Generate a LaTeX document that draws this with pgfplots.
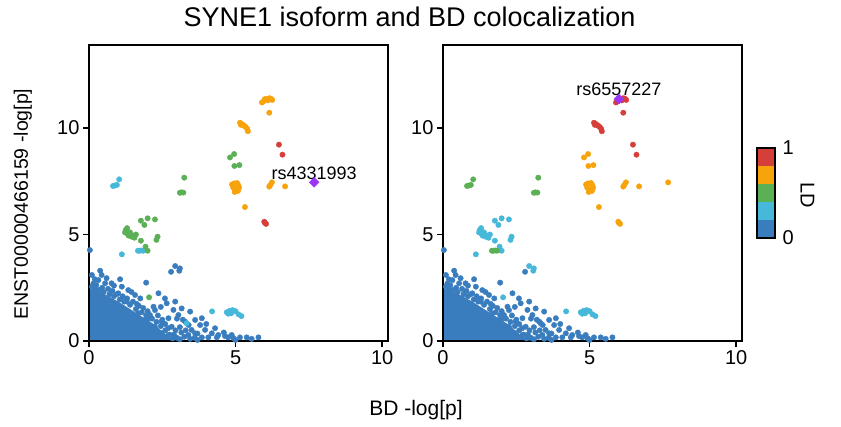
\documentclass[border=0pt]{standalone}
\usepackage{pgfplots}
\pgfplotsset{compat=1.18}
\usepackage{pgfplotstable}
\usepackage{fontspec}
\setmainfont{Liberation Sans}
\definecolor{cblue}{HTML}{3A7DBE}
\definecolor{ccyan}{HTML}{46B8DA}
\definecolor{cgreen}{HTML}{5BAF55}
\definecolor{corange}{HTML}{F7A30C}
\definecolor{cred}{HTML}{D43F3A}
\definecolor{cpurple}{HTML}{9B35F5}

% dense core outline of the blue (LD<0.2) SNPs
\pgfplotstableread{
x y
0 2.45
0.3 2.35
0.6 2.15
1.0 1.85
1.4 1.5
1.8 1.15
2.2 0.8
2.5 0.45
2.75 0.15
2.8 0
}\blueCore
\pgfplotstableread{
x y
0.1 2.55
0.2 2.45
0.35 2.4
0.5 2.3
0.7 2.2
0.85 2.1
1.05 1.95
1.2 1.85
1.4 1.7
1.6 1.5
1.8 1.35
1.95 1.2
2.15 1.05
2.3 0.9
2.45 0.7
2.6 0.5
2.75 0.3
2.85 0.12
2.9 0.3
3.0 0.15
3.15 0.4
3.25 0.2
3.45 0.1
3.6 0.15
3.7 0.05
0.38 3.3
0.43 3.1
0.32 2.86
0.55 2.71
0.77 2.71
1.06 2.9
1.12 2.55
1.34 2.39
1.57 2.16
1.0 2.24
1.29 1.85
1.63 1.74
1.95 2.74
2.37 2.24
2.2 1.61
2.59 2.0
2.65 1.77
2.94 1.85
2.88 1.46
3.16 1.53
3.45 1.38
3.05 1.22
2.71 1.07
3.28 0.91
3.62 0.99
3.85 1.07
3.79 0.75
3.5 0.52
3.96 0.52
4.19 0.36
4.41 0.28
4.64 0.23
4.87 0.28
5.15 0.17
5.38 0.17
5.78 0.17
3.1 0.08
4.07 0.17
2.82 0.67
2.48 0.91
2.25 0.67
2.08 1.22
1.91 0.99
1.68 1.3
1.91 0.44
2.48 0.36
2.71 0.28
3.62 0.36
3.39 0.28
3.85 0.17
4.36 0.17
4.75 0.17
4.93 0.13
0.03 4.27
0.15 2.7
0.25 2.62
0.45 2.5
0.65 2.45
0.8 2.35
0.95 2.2
1.15 2.1
1.3 2.0
1.5 1.85
1.7 1.65
1.85 1.55
2.0 1.4
2.05 1.05
2.35 1.2
2.5 1.0
2.6 0.8
2.7 0.6
2.95 0.5
3.1 0.65
3.3 0.5
3.2 1.0
3.4 0.75
4.0 0.8
3.7 0.35
0.6 2.95
0.2 2.9
0.1 3.1
0.85 2.6
1.45 2.3
1.75 2.0
2.25 1.45
2.45 1.6
3.0 1.05
4.3 0.6
4.6 0.4
5.0 0.05
5.55 0.1
}\blueFringe
\pgfplotstableread{
x y
5.9 11.2
5.95 11.25
6.05 11.35
6.1 11.3
6.15 11.4
6.2 11.38
6.25 11.32
6.0 11.36
}\grpA
\pgfplotstableread{
x y
6.15 10.72
}\grpB
\pgfplotstableread{
x y
5.15 10.25
5.18 10.15
5.2 10.2
5.25 10.15
5.3 10.1
5.35 10.05
5.4 9.95
5.42 9.85
}\grpC
\pgfplotstableread{
x y
6.48 9.22
6.6 8.75
}\grpD
\pgfplotstableread{
x y
4.95 8.78
4.81 8.62
4.96 8.22
5.13 8.26
}\grpE
\pgfplotstableread{
x y
1.03 7.59
0.82 7.28
0.88 7.3
0.95 7.33
}\grpF
\pgfplotstableread{
x y
3.25 7.67
3.1 6.96
3.15 6.98
3.22 6.97
}\grpG
\pgfplotstableread{
x y
4.88 7.35
4.95 7.4
5.05 7.42
5.1 7.3
4.92 7.2
5.0 7.1
5.08 7.05
4.97 7.0
5.12 7.2
}\grpH
\pgfplotstableread{
x y
6.18 7.32
6.24 7.45
6.15 7.25
6.69 7.26
}\grpI
\pgfplotstableread{
x y
7.68 7.45
}\grpJ
\pgfplotstableread{
x y
5.32 6.29
}\grpK
\pgfplotstableread{
x y
5.98 5.6
6.04 5.5
6.0 5.55
}\grpL
\pgfplotstableread{
x y
1.77 5.65
2.0 5.76
2.25 5.71
1.89 5.45
1.25 5.2
1.3 5.05
1.35 4.95
1.4 5.1
1.5 4.95
1.55 4.85
1.6 5.0
1.45 4.9
1.3 5.3
1.23 5.1
1.77 4.71
2.34 4.9
2.3 4.75
1.93 4.43
2.0 4.24
}\grpM
\pgfplotstableread{
x y
1.67 4.24
1.72 4.24
1.78 4.25
1.85 4.24
}\grpN
\pgfplotstableread{
x y
1.12 4.07
}\grpO
\pgfplotstableread{
x y
2.94 3.52
3.1 3.41
3.08 3.3
}\grpQa
\pgfplotstableread{
x y
2.8 3.25
}\grpQb
\pgfplotstableread{
x y
2.05 2.05
}\grpR
\pgfplotstableread{
x y
4.2 1.39
4.7 1.35
4.75 1.28
4.8 1.42
4.85 1.3
4.9 1.45
5.0 1.4
5.1 1.25
5.2 1.17
}\grpS
\pgfplotstableread{
x y
3.33 0.83
}\grpT
\pgfplotstableread{
x y
6.0 11.36
}\grpZ

\pgfplotsset{
  panel/.style={
    anchor=south west,
    width=299pt, height=296pt, scale only axis,
    xmin=0, xmax=10.2, ymin=0, ymax=13.9,
    xtick={0,5,10}, ytick={0,5,10},
    tick align=outside, xtick pos=left, ytick pos=left,
    major tick length=6pt,
    every tick/.style={line width=1.5pt, black},
    axis line style={line width=2pt},
    tick label style={font=\fontsize{20}{24}\selectfont},
    /pgf/number format/assume math mode=true,
    axis on top, clip=true,
  },
  pts/.style={only marks, mark=*, mark size=2.7pt, mark options={draw=none}},
  lead/.style={only marks, color=cpurple, mark=square*, mark size=3.5pt, mark options={rotate=45, draw=none, fill=cpurple}},
}

\begin{document}
\begin{tikzpicture}
\useasboundingbox (0,0) rectangle (841pt,426pt);

\node[font=\fontsize{27}{32}\selectfont, anchor=base] at (409.5pt,399pt) {SYNE1 isoform and BD colocalization};
\node[font=\fontsize{21}{25}\selectfont, anchor=base] at (416pt,11pt) {BD -log[p]};
\node[font=\fontsize{19.5}{24}\selectfont, anchor=base, rotate=90] at (28pt,222pt) {ENST00000466159 -log[p]};

% left panel
\begin{axis}[panel, at={(89pt,85pt)}]
\addplot[fill=cblue, draw=none] table {\blueCore} \closedcycle;
\addplot[pts, cblue] table {\blueFringe};
\addplot[pts, cblue] table {\grpQa};
\addplot[pts, cblue] table {\grpQb};
\addplot[pts, ccyan] table {\grpF};
\addplot[pts, ccyan] table {\grpN};
\addplot[pts, ccyan] table {\grpO};
\addplot[pts, ccyan] table {\grpS};
\addplot[pts, ccyan] table {\grpT};
\addplot[pts, cgreen] table {\grpE};
\addplot[pts, cgreen] table {\grpG};
\addplot[pts, cgreen] table {\grpM};
\addplot[pts, cgreen] table {\grpR};
\addplot[pts, corange] table {\grpA};
\addplot[pts, corange] table {\grpB};
\addplot[pts, corange] table {\grpC};
\addplot[pts, corange] table {\grpH};
\addplot[pts, corange] table {\grpI};
\addplot[pts, corange] table {\grpK};
\addplot[pts, cred] table {\grpD};
\addplot[pts, cred] table {\grpL};
\addplot[lead] table {\grpJ};
\node[font=\fontsize{18}{22}\selectfont, anchor=base, yshift=3pt] at (axis cs:7.68,7.45) {rs4331993};
\end{axis}

% right panel
\begin{axis}[panel, at={(443pt,85pt)}]
\addplot[fill=cblue, draw=none] table {\blueCore} \closedcycle;
\addplot[pts, cblue] table {\blueFringe};
\addplot[pts, cblue] table {\grpQb};
\addplot[pts, cblue] table {\grpT};
\addplot[pts, ccyan] table {\grpM};
\addplot[pts, ccyan] table {\grpO};
\addplot[pts, ccyan] table {\grpQa};
\addplot[pts, ccyan] table {\grpR};
\addplot[pts, ccyan] table {\grpS};
\addplot[pts, cgreen] table {\grpF};
\addplot[pts, cgreen] table {\grpG};
\addplot[pts, cgreen] table {\grpN};
\addplot[pts, corange] table {\grpE};
\addplot[pts, corange] table {\grpH};
\addplot[pts, corange] table {\grpI};
\addplot[pts, corange] table {\grpJ};
\addplot[pts, corange] table {\grpK};
\addplot[pts, corange] table {\grpL};
\addplot[pts, cred] table {\grpA};
\addplot[pts, cred] table {\grpB};
\addplot[pts, cred] table {\grpC};
\addplot[pts, cred] table {\grpD};
\addplot[lead] table {\grpZ};
\node[font=\fontsize{18}{22}\selectfont, anchor=base, yshift=4pt] at (axis cs:6.0,11.36) {rs6557227};
\end{axis}

% colour bar
\begin{axis}[at={(757pt,188pt)}, anchor=south west,
  width=18pt, height=90pt, scale only axis,
  xmin=0, xmax=1, ymin=0, ymax=1,
  xtick=\empty, ytick={0,1}, yticklabel pos=right,
  ytick style={draw=none},
  yticklabel style={font=\fontsize{20}{24}\selectfont, xshift=4pt},
  /pgf/number format/assume math mode=true,
  axis line style={line width=1.5pt}, axis on top,
  ylabel={LD}, ylabel style={font=\fontsize{20}{24}\selectfont, rotate=180, xshift=2pt},
]
\addplot[fill=cred, draw=none] coordinates {(0,1) (1,1)} \closedcycle;
\addplot[fill=corange, draw=none] coordinates {(0,0.8) (1,0.8)} \closedcycle;
\addplot[fill=cgreen, draw=none] coordinates {(0,0.6) (1,0.6)} \closedcycle;
\addplot[fill=ccyan, draw=none] coordinates {(0,0.4) (1,0.4)} \closedcycle;
\addplot[fill=cblue, draw=none] coordinates {(0,0.2) (1,0.2)} \closedcycle;
\end{axis}
\end{tikzpicture}
\end{document}
